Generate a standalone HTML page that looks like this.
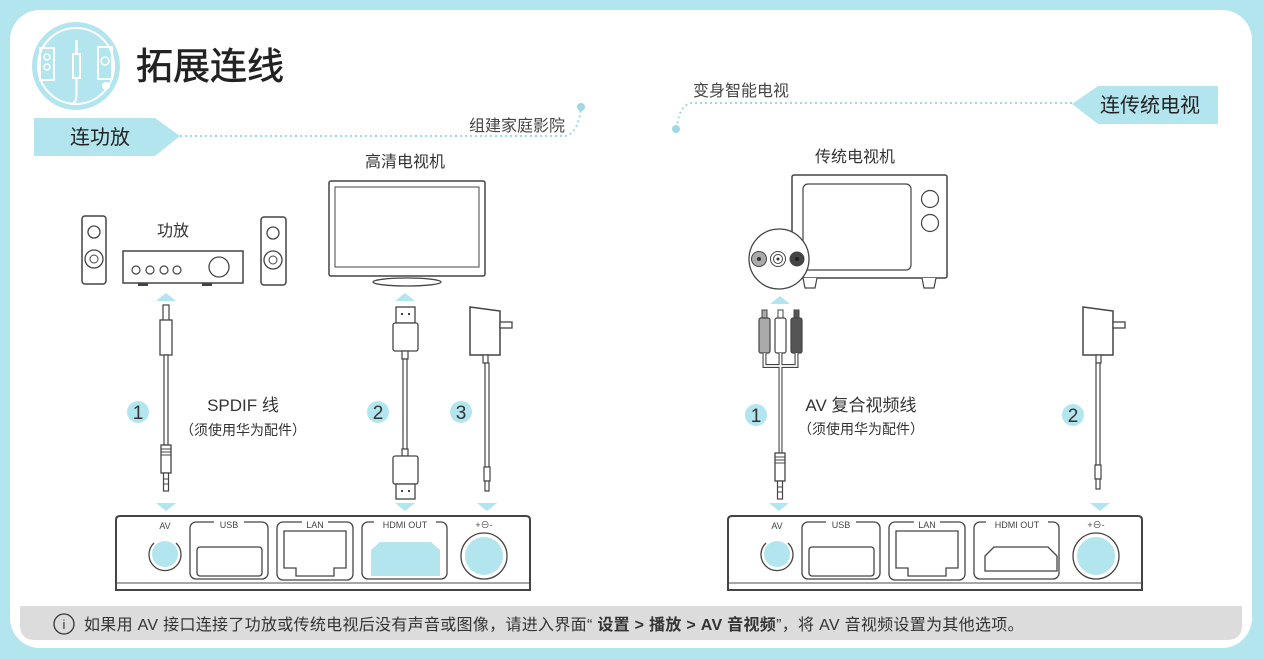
<!DOCTYPE html>
<html><head><meta charset="utf-8"><style>
html,body{margin:0;padding:0;background:#b3e5ef;}
svg{display:block;font-family:"Liberation Sans","Noto Sans CJK SC",sans-serif;}
</style></head><body>
<svg width="1264" height="659" viewBox="0 0 1264 659" xmlns="http://www.w3.org/2000/svg">
<defs>
<g id="stb">
  <path d="M0,4 Q0,0 4,0 L410,0 Q414,0 414,4 L414,74 L0,74 Z" fill="#fff" stroke="#444" stroke-width="2"/>
  <line x1="1" y1="67" x2="413" y2="67" stroke="#888" stroke-width="1.5"/>
  <text x="49" y="13" font-size="9" fill="#444" text-anchor="middle">AV</text>
  <path d="M38,27 A16,16 0 1 0 60,27" fill="none" stroke="#444" stroke-width="1.3"/>
  <circle cx="49" cy="38" r="13" fill="#b3e5ef"/>
  <rect x="74" y="6" width="78" height="57" rx="6" fill="none" stroke="#444" stroke-width="1.3"/>
  <rect x="98" y="2" width="30" height="8" fill="#fff"/>
  <text x="113" y="12" font-size="9" fill="#444" text-anchor="middle">USB</text>
  <rect x="81" y="31" width="65" height="29" rx="3" fill="none" stroke="#444" stroke-width="1.3"/>
  <rect x="161" y="6" width="76" height="58" rx="6" fill="none" stroke="#444" stroke-width="1.3"/>
  <rect x="186" y="2" width="26" height="8" fill="#fff"/>
  <text x="199" y="12" font-size="9" fill="#444" text-anchor="middle">LAN</text>
  <path d="M168,15 L230,15 L230,52 L218,52 L218,60 L180,60 L180,52 L168,52 Z" fill="none" stroke="#444" stroke-width="1.3"/>
  <rect x="246" y="6" width="85" height="57" rx="6" fill="none" stroke="#444" stroke-width="1.3"/>
  <rect x="258" y="2" width="62" height="8" fill="#fff"/>
  <text x="289" y="12" font-size="9" fill="#444" text-anchor="middle">HDMI OUT</text>
  <text x="368" y="12" font-size="9" fill="#444" text-anchor="middle">+⊖-</text>
  <circle cx="368" cy="40" r="23" fill="none" stroke="#444" stroke-width="1.3"/>
  <circle cx="368" cy="40" r="19" fill="#b3e5ef"/>
</g>
<g id="adapter">
  <path d="M0,0 L30,4 L30,48 L0,48 Z" fill="#fff" stroke="#444" stroke-width="1.5"/>
  <rect x="30" y="15" width="12" height="6" fill="#fff" stroke="#444" stroke-width="1.3"/>
  <rect x="13" y="48" width="5" height="8" fill="#fff" stroke="#444" stroke-width="1.2"/>
</g>
<g id="dcplug">
  <rect x="-3" y="0" width="6" height="14" fill="#fff" stroke="#444" stroke-width="1.2"/>
  <rect x="-2" y="14" width="4" height="10" fill="#fff" stroke="#444" stroke-width="1.2"/>
</g>
<g id="jack">
  <rect x="-5" y="0" width="10" height="28" fill="#fff" stroke="#444" stroke-width="1.3"/>
  <path d="M-5,4 h10 M-5,7 h10 M-5,10 h10" stroke="#444"/>
  <rect x="-2.5" y="28" width="5" height="18" fill="#fff" stroke="#444" stroke-width="1.2"/>
  <path d="M-2.5,34 h5 M-2.5,39 h5" stroke="#444"/>
</g>
<polygon id="up" points="-10,8 0,0 10,8" fill="#b3e5ef"/>
<polygon id="down" points="-10,0 10,0 0,8" fill="#b3e5ef"/>
</defs>

<rect x="10" y="10" width="1242" height="638" rx="30" fill="#fff"/>
<path d="M20,606 L1242,606 L1242,625 Q1242,640 1227,640 L35,640 Q20,640 20,625 Z" fill="#dcdcdc"/>

<circle cx="76" cy="66" r="44" fill="#b3e5ef"/>
<circle cx="76" cy="66" r="38" fill="none" stroke="#fff" stroke-width="2"/>
<rect x="40" y="48" width="14" height="32" fill="none" stroke="#fff" stroke-width="2"/>
<circle cx="47" cy="57" r="3" fill="none" stroke="#fff" stroke-width="1.5"/><circle cx="47" cy="67" r="3" fill="none" stroke="#fff" stroke-width="1.5"/>
<rect x="98" y="47" width="14" height="32" fill="none" stroke="#fff" stroke-width="2"/>
<circle cx="105" cy="61" r="4" fill="none" stroke="#fff" stroke-width="1.5"/>
<circle cx="106" cy="86" r="4" fill="#fff"/>
<rect x="73" y="54" width="7" height="24" fill="none" stroke="#fff" stroke-width="2"/>
<line x1="76.5" y1="40" x2="76.5" y2="54" stroke="#fff" stroke-width="2.5"/>
<path d="M76.5,78 L76.5,95 Q76.5,104 70,104" fill="none" stroke="#fff" stroke-width="2"/>
<text x="136" y="79" font-size="37" fill="#222" stroke="#222" stroke-width="0.6">拓展连线</text>

<polygon points="34,118 155,118 180,136 155,156 34,156" fill="#b3e5ef"/>
<text x="70" y="144" font-size="20" fill="#222">连功放</text>
<path d="M180,136 L565,136 Q578,134 581,108" fill="none" stroke="#9fd9e6" stroke-width="2" stroke-dasharray="2,3"/>
<circle cx="581" cy="107" r="4" fill="#9fd9e6"/>
<text x="469" y="131" font-size="16" fill="#444">组建家庭影院</text>

<polygon points="1218,86 1098,86 1072,104 1098,124 1218,124" fill="#b3e5ef"/>
<text x="1100" y="112" font-size="20" fill="#222">连传统电视</text>
<path d="M1072,103 L692,103 Q680,104 677,126" fill="none" stroke="#9fd9e6" stroke-width="2" stroke-dasharray="2,3"/>
<circle cx="676" cy="129" r="4" fill="#9fd9e6"/>
<text x="693" y="96" font-size="16" fill="#444">变身智能电视</text>

<rect x="82" y="216" width="24" height="68" rx="3" fill="#fff" stroke="#444" stroke-width="1.5"/>
<circle cx="94" cy="232" r="6" fill="none" stroke="#444" stroke-width="1.3"/><circle cx="94" cy="259" r="9" fill="none" stroke="#444" stroke-width="1.3"/><circle cx="94" cy="259" r="4" fill="none" stroke="#444"/>
<rect x="261" y="217" width="25" height="68" rx="3" fill="#fff" stroke="#444" stroke-width="1.5"/>
<circle cx="273" cy="233" r="6" fill="none" stroke="#444" stroke-width="1.3"/><circle cx="273" cy="260" r="9" fill="none" stroke="#444" stroke-width="1.3"/><circle cx="273" cy="260" r="4" fill="none" stroke="#444"/>
<rect x="123" y="251" width="120" height="32" fill="#fff" stroke="#444" stroke-width="1.5"/>
<rect x="138" y="283" width="10" height="3" fill="#444"/><rect x="202" y="283" width="10" height="3" fill="#444"/>
<circle cx="136" cy="270" r="4" fill="none" stroke="#444" stroke-width="1.2"/><circle cx="150" cy="270" r="4" fill="none" stroke="#444" stroke-width="1.2"/><circle cx="164" cy="270" r="4" fill="none" stroke="#444" stroke-width="1.2"/><circle cx="177" cy="270" r="4" fill="none" stroke="#444" stroke-width="1.2"/>
<circle cx="219" cy="267" r="10" fill="none" stroke="#444" stroke-width="1.3"/>
<text x="173" y="236" font-size="16" fill="#333" text-anchor="middle">功放</text>

<text x="405" y="167" font-size="16" fill="#333" text-anchor="middle">高清电视机</text>
<rect x="329" y="181" width="156" height="95" rx="2" fill="#fff" stroke="#444" stroke-width="1.5"/>
<rect x="335" y="187" width="144" height="80" fill="none" stroke="#444" stroke-width="1"/>
<ellipse cx="407" cy="282" rx="34" ry="4" fill="#fff" stroke="#444" stroke-width="1.3"/>

<text x="855" y="162" font-size="16" fill="#333" text-anchor="middle">传统电视机</text>
<rect x="792" y="175" width="155" height="103" rx="2" fill="#fff" stroke="#444" stroke-width="1.5"/>
<rect x="803" y="184" width="108" height="86" rx="5" fill="none" stroke="#444" stroke-width="1.2"/>
<circle cx="930" cy="199" r="8.5" fill="none" stroke="#444" stroke-width="1.2"/><circle cx="930" cy="223" r="8.5" fill="none" stroke="#444" stroke-width="1.2"/>
<path d="M803,278 L805,288 L815,288 L817,278 M922,278 L924,288 L934,288 L936,278" fill="#fff" stroke="#444" stroke-width="1.2"/>
<circle cx="779" cy="259" r="30" fill="#fff" stroke="#444" stroke-width="1.3"/>
<circle cx="759" cy="259" r="7.5" fill="#aaa" stroke="#444"/><circle cx="759" cy="259" r="2" fill="#333"/>
<circle cx="778" cy="259" r="7.5" fill="#fff" stroke="#444"/><circle cx="778" cy="259" r="4.5" fill="none" stroke="#444"/><circle cx="778" cy="259" r="1.5" fill="#333"/>
<circle cx="797" cy="259" r="7.5" fill="#444"/><circle cx="797" cy="259" r="2" fill="#222"/>

<use href="#up" x="166" y="293"/><use href="#up" x="405" y="293"/><use href="#up" x="780" y="296"/>
<use href="#down" x="166" y="503"/><use href="#down" x="405" y="503"/><use href="#down" x="487" y="503"/>
<use href="#down" x="779" y="503"/><use href="#down" x="1100" y="503"/>

<rect x="163" y="305" width="6" height="16" fill="#fff" stroke="#444" stroke-width="1.2"/>
<rect x="160" y="320" width="12" height="35" fill="#fff" stroke="#444" stroke-width="1.3"/>
<rect x="164" y="355" width="4" height="90" fill="#fff" stroke="#444" stroke-width="1.2"/>
<use href="#jack" x="166" y="445"/>
<rect x="396" y="307" width="19" height="16" fill="#fff" stroke="#444" stroke-width="1.3"/>
<rect x="401" y="313" width="2" height="2" fill="#444"/><rect x="408" y="313" width="2" height="2" fill="#444"/>
<rect x="393" y="323" width="25" height="28" rx="2" fill="#fff" stroke="#444" stroke-width="1.3"/>
<rect x="402" y="351" width="6" height="8" fill="#fff" stroke="#444" stroke-width="1.2"/>
<rect x="403" y="359" width="4" height="90" fill="#fff" stroke="#444" stroke-width="1.2"/>
<rect x="402" y="449" width="6" height="7" fill="#fff" stroke="#444" stroke-width="1.2"/>
<rect x="393" y="456" width="25" height="28" rx="2" fill="#fff" stroke="#444" stroke-width="1.3"/>
<rect x="396" y="484" width="19" height="15" fill="#fff" stroke="#444" stroke-width="1.3"/>
<rect x="401" y="490" width="2" height="2" fill="#444"/><rect x="408" y="490" width="2" height="2" fill="#444"/>
<use href="#adapter" x="470" y="307"/>
<rect x="485" y="363" width="4" height="104" fill="#fff" stroke="#444" stroke-width="1.2"/>
<use href="#dcplug" x="487" y="467"/>

<rect x="762" y="310" width="5" height="10" fill="#aaa" stroke="#444"/><rect x="759" y="318" width="11" height="35" rx="2" fill="#aaa" stroke="#444" stroke-width="1.2"/>
<rect x="778" y="310" width="5" height="10" fill="#fff" stroke="#444"/><rect x="775" y="318" width="11" height="35" rx="2" fill="#fff" stroke="#444" stroke-width="1.2"/>
<rect x="794" y="310" width="5" height="10" fill="#555" stroke="#444"/><rect x="791" y="318" width="11" height="35" rx="2" fill="#555" stroke="#444" stroke-width="1.2"/>
<path d="M764.5,353 V366 H796.5 V353 M780.5,353 V366 M780.5,366 V453" fill="none" stroke="#444" stroke-width="4"/>
<path d="M764.5,353 V366 H796.5 V353 M780.5,353 V366 M780.5,366 V453" fill="none" stroke="#fff" stroke-width="1.8"/>
<use href="#jack" x="780" y="453"/>
<use href="#adapter" x="1083" y="307"/>
<rect x="1096" y="363" width="4" height="102" fill="#fff" stroke="#444" stroke-width="1.2"/>
<use href="#dcplug" x="1098" y="465"/>

<g font-size="19" fill="#333" text-anchor="middle">
<circle cx="138" cy="412" r="11" fill="#b3e5ef"/><text x="138" y="419">1</text>
<circle cx="378" cy="412" r="11" fill="#b3e5ef"/><text x="378" y="419">2</text>
<circle cx="461" cy="412" r="11" fill="#b3e5ef"/><text x="461" y="419">3</text>
<circle cx="756" cy="415" r="11" fill="#b3e5ef"/><text x="756" y="422">1</text>
<circle cx="1073" cy="415" r="11" fill="#b3e5ef"/><text x="1073" y="422">2</text>
</g>
<text x="243" y="411" font-size="17" fill="#333" text-anchor="middle">SPDIF 线</text>
<text x="243" y="435" font-size="14" fill="#333" text-anchor="middle">（须使用华为配件）</text>
<text x="861" y="411" font-size="17" fill="#333" text-anchor="middle">AV 复合视频线</text>
<text x="861" y="434" font-size="14" fill="#333" text-anchor="middle">（须使用华为配件）</text>

<use href="#stb" x="116" y="516"/>
<use href="#stb" x="728" y="516"/>
<path d="M371,550 L380,542 L431,542 L440,550 L440,576 L371,576 Z" fill="#b3e5ef"/>
<path d="M985,556 L994,547 L1048,547 L1057,556 L1057,571 L985,571 Z" fill="none" stroke="#444" stroke-width="1.3"/>

<circle cx="64" cy="624" r="10" fill="none" stroke="#333" stroke-width="1.3"/>
<text x="64" y="629" font-size="13" fill="#333" text-anchor="middle">i</text>
<text x="84" y="630" font-size="16" letter-spacing="0.3" fill="#333">如果用 AV 接口连接了功放或传统电视后没有声音或图像，请进入界面“ <tspan font-weight="bold">设置 &gt; 播放 &gt; AV 音视频</tspan>”，将 AV 音视频设置为其他选项。</text>
</svg>
</body></html>
